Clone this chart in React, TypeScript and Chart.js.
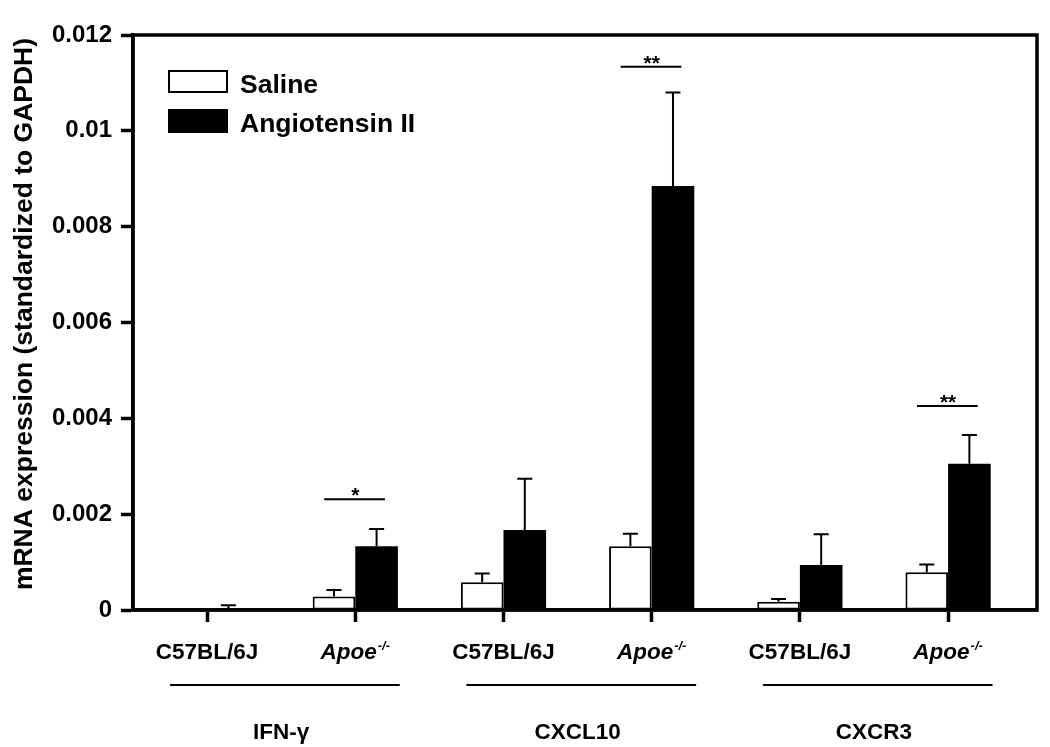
import React, { useEffect, useRef } from "react";
import { Chart, registerables } from "chart.js";

Chart.register(...registerables);

// ---- data ----
const categoryIndex = [0, 1, 2, 3, 4, 5];
const genotypeLabels = ["C57BL/6J", "Apoe", "C57BL/6J", "Apoe", "C57BL/6J", "Apoe"];
const genotypeSup = ["", "-/-", "", "-/-", "", "-/-"];
const genotypeItalic = [false, true, false, true, false, true];
const groupLabels = ["IFN-γ", "CXCL10", "CXCR3"];
const seriesNames = ["Saline", "Angiotensin II"];

const salineMean = [0.00001, 0.00028, 0.00058, 0.00133, 0.00017, 0.00079];
const salineSem = [0, 0.00014, 0.00018, 0.00026, 0.00006, 0.00016];
const angMean = [0.00004, 0.00133, 0.00167, 0.00885, 0.00094, 0.00305];
const angSem = [0.00006, 0.00036, 0.00107, 0.00195, 0.00064, 0.0006];

const yTickValues = [0, 0.002, 0.004, 0.006, 0.008, 0.01, 0.012];
const yTickLabels = ["0", "0.002", "0.004", "0.006", "0.008", "0.01", "0.012"];
const yTitle = "mRNA expression (standardized to GAPDH)";

const sigCategory = [1, 3, 5];
const sigText = ["*", "**", "**"];
const sigLevel = [0.00231, 0.01134, 0.00426];

const FONT = '"Liberation Sans", Arial, Helvetica, sans-serif';

const overlayPlugin = {
  id: "overlay",
  afterDatasetsDraw(chart: any) {
    const ctx = chart.ctx;
    const x = chart.scales.x;
    const y = chart.scales.y;
    const ca = chart.chartArea;
    ctx.save();
    ctx.strokeStyle = "#000";
    ctx.fillStyle = "#000";

    // error bars (upper only)
    const means = [salineMean, angMean];
    const sems = [salineSem, angSem];
    ctx.lineWidth = 2;
    for (let d = 0; d < 2; d++) {
      const meta = chart.getDatasetMeta(d);
      meta.data.forEach((bar: any, i: number) => {
        const s = sems[d][i];
        if (!s) return;
        const top = y.getPixelForValue(means[d][i] + s);
        ctx.beginPath();
        ctx.moveTo(bar.x, bar.y);
        ctx.lineTo(bar.x, top);
        ctx.moveTo(bar.x - 7.5, top);
        ctx.lineTo(bar.x + 7.5, top);
        ctx.stroke();
      });
    }

    // frame
    ctx.lineWidth = 3.5;
    ctx.strokeRect(ca.left, ca.top, ca.right - ca.left, ca.bottom - ca.top);

    // significance
    ctx.lineWidth = 2;
    ctx.font = `bold 21px ${FONT}`;
    ctx.textAlign = "center";
    ctx.textBaseline = "alphabetic";
    sigCategory.forEach((c, k) => {
      const ly = y.getPixelForValue(sigLevel[k]);
      const x0 = x.getPixelForValue(c - 0.21);
      const x1 = x.getPixelForValue(c + 0.2);
      ctx.beginPath();
      ctx.moveTo(x0, ly);
      ctx.lineTo(x1, ly);
      ctx.stroke();
      ctx.fillText(sigText[k], x.getPixelForValue(c), ly + 3);
    });

    // legend
    const lx = 168, lw = 60, lh = 23;
    const legendTop = [70, 109];
    ctx.lineWidth = 2;
    legendTop.forEach((t, k) => {
      if (k === 0) {
        ctx.fillStyle = "#fff";
        ctx.fillRect(lx, t, lw, lh);
        ctx.strokeStyle = "#000";
        ctx.strokeRect(lx + 1, t + 1, lw - 2, lh - 2);
      } else {
        ctx.fillStyle = "#000";
        ctx.fillRect(lx, t, lw, lh + 1);
      }
      ctx.fillStyle = "#000";
      ctx.font = `bold 26.5px ${FONT}`;
      ctx.textAlign = "left";
      ctx.textBaseline = "alphabetic";
      ctx.fillText(seriesNames[k], 240, t + 23);
    });

    // category labels
    ctx.textBaseline = "alphabetic";
    categoryIndex.forEach((c, i) => {
      const cx = x.getPixelForValue(c);
      const main = `${genotypeItalic[i] ? "italic " : ""}bold 22.5px ${FONT}`;
      const sup = `${genotypeItalic[i] ? "italic " : ""}bold 13px ${FONT}`;
      ctx.font = main;
      const w1 = ctx.measureText(genotypeLabels[i]).width;
      ctx.font = sup;
      const w2 = genotypeSup[i] ? ctx.measureText(genotypeSup[i]).width + 1 : 0;
      const sx = cx - (w1 + w2) / 2;
      ctx.textAlign = "left";
      ctx.font = main;
      ctx.fillText(genotypeLabels[i], sx, 659);
      if (genotypeSup[i]) {
        ctx.font = sup;
        ctx.fillText(genotypeSup[i], sx + w1 + 1, 650);
      }
    });

    // group lines and labels
    groupLabels.forEach((g, k) => {
      const center = (categoryIndex[2 * k] + categoryIndex[2 * k + 1]) / 2;
      const x0 = x.getPixelForValue(center - 0.75);
      const x1 = x.getPixelForValue(center + 0.8);
      ctx.lineWidth = 2;
      ctx.beginPath();
      ctx.moveTo(x0, 685);
      ctx.lineTo(x1, 685);
      ctx.stroke();
      ctx.font = `bold 22.5px ${FONT}`;
      ctx.textAlign = "center";
      ctx.fillText(g, x.getPixelForValue(center), 739);
    });

    // y title
    ctx.save();
    ctx.translate(32, 314);
    ctx.rotate(-Math.PI / 2);
    ctx.font = `bold 26.5px ${FONT}`;
    ctx.textAlign = "center";
    ctx.textBaseline = "alphabetic";
    ctx.fillText(yTitle, 0, 0);
    ctx.restore();

    ctx.restore();
  },
};

export default function App() {
  const ref = useRef<HTMLCanvasElement | null>(null);
  useEffect(() => {
    if (!ref.current) return;
    const chart = new Chart(ref.current, {
      type: "bar",
      data: {
        datasets: [
          {
            label: seriesNames[0],
            data: categoryIndex.map((c, i) => ({ x: c, y: salineMean[i] })),
            backgroundColor: "#ffffff",
            borderColor: "#000000",
            borderWidth: 2,
            borderSkipped: false,
          },
          {
            label: seriesNames[1],
            data: categoryIndex.map((c, i) => ({ x: c, y: angMean[i] })),
            backgroundColor: "#000000",
            borderWidth: 0,
          },
        ],
      },
      options: {
        animation: false,
        responsive: false,
        devicePixelRatio: 1,
        categoryPercentage: 0.575,
        barPercentage: 1,
        layout: { padding: { top: 35, right: 13, left: 0, bottom: 0 } },
        plugins: {
          legend: { display: false },
          tooltip: { enabled: false },
          title: { display: false },
        },
        scales: {
          x: {
            type: "linear",
            min: -0.5,
            max: 5.6,
            offset: false,
            afterBuildTicks: (scale: any) => {
              scale.ticks = categoryIndex.map((v) => ({ value: v }));
            },
            afterFit: (scale: any) => {
              scale.height = 137;
            },
            ticks: { display: false },
            grid: {
              offset: false,
              drawOnChartArea: false,
              drawTicks: true,
              tickLength: 12,
              tickWidth: 3.5,
              tickColor: "#000",
              color: "#000",
            },
            border: { display: true, color: "#000", width: 3.5 },
          },
          y: {
            type: "linear",
            min: 0,
            max: 0.012,
            afterBuildTicks: (scale: any) => {
              scale.ticks = yTickValues.map((v) => ({ value: v }));
            },
            afterFit: (scale: any) => {
              scale.width = 133;
            },
            ticks: {
              color: "#000",
              padding: 9,
              font: { family: FONT, size: 24, weight: "bold" },
              callback: (_v: any, i: number) => yTickLabels[i],
            },
            grid: {
              drawOnChartArea: false,
              drawTicks: true,
              tickLength: 12,
              tickWidth: 3.5,
              tickColor: "#000",
              color: "#000",
            },
            border: { display: true, color: "#000", width: 3.5 },
          },
        },
      },
      plugins: [overlayPlugin],
    } as any);
    return () => chart.destroy();
  }, []);
  return (
    <div style={{ position: "absolute", left: 0, top: 0, width: 1050, height: 747, background: "#fff" }}>
      <canvas ref={ref} width={1050} height={747} style={{ width: 1050, height: 747, display: "block" }} />
    </div>
  );
}
